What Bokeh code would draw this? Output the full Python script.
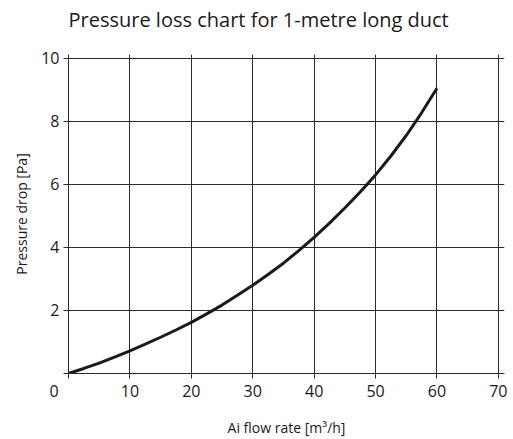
from bokeh.plotting import figure
from bokeh.models import Range1d, FixedTicker, Title
from bokeh.embed import file_html
from bokeh.resources import INLINE

# Data
flow_rate = [0, 2.5, 5, 7.5, 10, 12.5, 15, 17.5, 20, 22.5, 25, 27.5, 30,
             32.5, 35, 37.5, 40, 42.5, 45, 47.5, 50, 52.5, 55, 57.5, 60]
pressure_drop = [0, 0.16, 0.33, 0.52, 0.72, 0.93, 1.15, 1.38, 1.62, 1.89, 2.17, 2.48, 2.8,
                 3.14, 3.5, 3.9, 4.32, 4.77, 5.25, 5.76, 6.3, 6.9, 7.55, 8.27, 9.05]
x_ticks = [0, 10, 20, 30, 40, 50, 60, 70]
y_ticks = [0, 2, 4, 6, 8, 10]

FONT = "Open Sans"
GRID = "#2a2a2a"
TEXT = "#1a1a1a"

p = figure(
    frame_width=436, frame_height=319,
    x_range=Range1d(0, 71), y_range=Range1d(0, 10.12),
    output_backend="svg", toolbar_location=None,
    min_border_left=68, min_border_right=8, min_border_top=54, min_border_bottom=50,
)
p.outline_line_color = None
p.background_fill_color = "white"
p.border_fill_color = "white"

p.title.text = "Pressure loss chart for 1-metre long duct"
p.title.align = "left"
p.title.text_font = FONT
p.title.text_font_size = "20px"
p.title.text_font_style = "normal"
p.title.text_color = TEXT
p.title.text_line_height = 1.0
p.title.standoff = 0

# empty spacer between the frame and the title
p.add_layout(Title(text="\u00a0", text_font_size="18px", standoff=0), "above")

for ax in (p.xaxis[0], p.yaxis[0]):
    ax.axis_line_color = GRID
    ax.major_tick_line_color = GRID
    ax.major_tick_in = 0
    ax.major_tick_out = 5
    ax.minor_tick_line_color = None
    ax.major_label_text_font = FONT
    ax.major_label_text_font_size = "16px"
    ax.major_label_text_color = TEXT
    ax.axis_label_text_font = FONT
    ax.axis_label_text_font_size = "14px"
    ax.axis_label_text_font_style = "normal"
    ax.axis_label_text_color = TEXT

p.xaxis.ticker = FixedTicker(ticks=x_ticks)
p.yaxis.ticker = FixedTicker(ticks=y_ticks)
# the shared origin label sits left of the y axis, on the x-label row
p.xaxis.major_label_overrides = {0: "0" + "\u00a0" * 7}
p.yaxis.major_label_overrides = {0: ""}
p.xaxis.major_label_standoff = 1
p.yaxis.major_label_standoff = 4
p.xaxis.axis_label = "Ai flow rate [m³/h]"
p.yaxis.axis_label = "Pressure drop [Pa]"
p.xaxis.axis_label_standoff = 13
p.yaxis.axis_label_standoff = 7

p.xgrid.ticker = FixedTicker(ticks=x_ticks)
p.ygrid.ticker = FixedTicker(ticks=y_ticks)
p.grid.grid_line_color = GRID
p.grid.grid_line_width = 1
p.grid.grid_line_alpha = 1

p.line(flow_rate, pressure_drop, line_color=TEXT, line_width=3)

open("out.html", "w").write(file_html(p, INLINE))
